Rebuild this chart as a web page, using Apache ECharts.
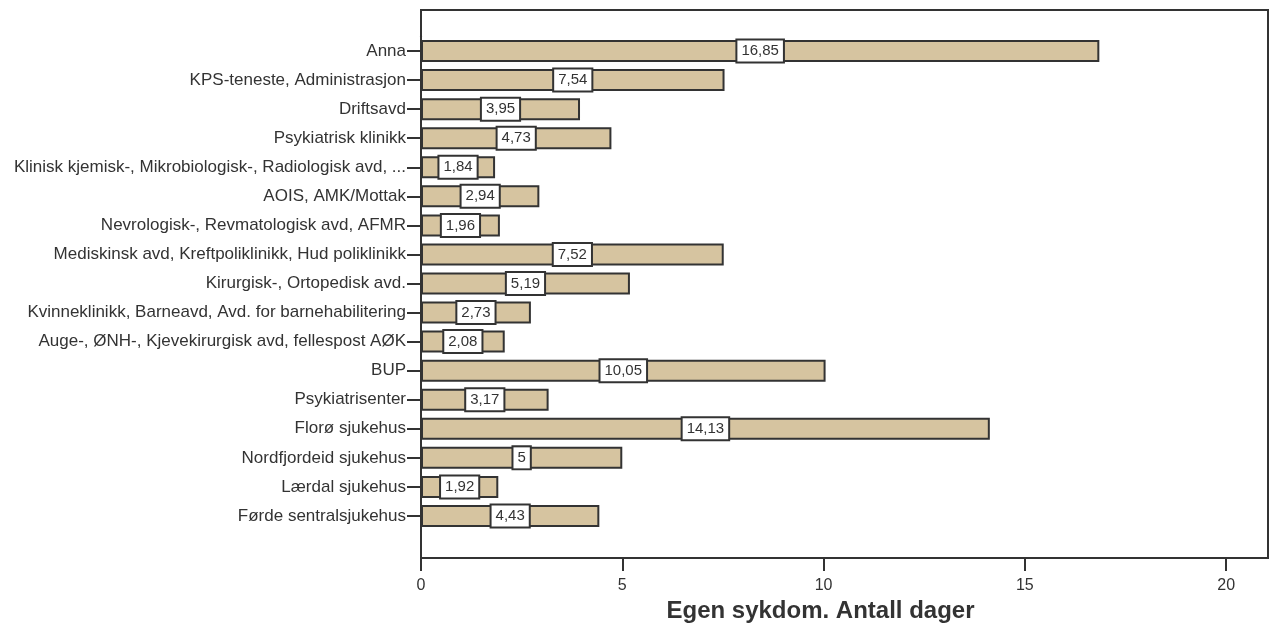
<!DOCTYPE html>
<html>
<head>
<meta charset="utf-8">
<script src="https://cdn.jsdelivr.net/npm/echarts@6/dist/echarts.min.js"></script>
<style>
  html, body { margin: 0; padding: 0; background: #fff; }
  #chart { width: 1270px; height: 625px; }
</style>
</head>
<body>
<div id="chart"></div>
<script>
// Departments, listed top to bottom
const departments = [
  'Anna',
  'KPS-teneste, Administrasjon',
  'Driftsavd',
  'Psykiatrisk klinikk',
  'Klinisk kjemisk-, Mikrobiologisk-, Radiologisk avd, ...',
  'AOIS, AMK/Mottak',
  'Nevrologisk-, Revmatologisk avd, AFMR',
  'Mediskinsk avd, Kreftpoliklinikk, Hud poliklinikk',
  'Kirurgisk-, Ortopedisk avd.',
  'Kvinneklinikk, Barneavd, Avd. for barnehabilitering',
  'Auge-, ØNH-, Kjevekirurgisk avd, fellespost AØK',
  'BUP',
  'Psykiatrisenter',
  'Florø sjukehus',
  'Nordfjordeid sjukehus',
  'Lærdal sjukehus',
  'Førde sentralsjukehus'
];

// Days of own sickness per department
const sickDays = [16.85, 7.54, 3.95, 4.73, 1.84, 2.94, 1.96, 7.52, 5.19, 2.73, 2.08, 10.05, 3.17, 14.13, 5, 1.92, 4.43];

// Tick values on the day axis
const dayTicks = [0, 5, 10, 15, 20];

const axisName = 'Egen sykdom. Antall dager';

const ink = '#333333';
const fontFamily = '"Liberation Sans", Arial, Helvetica, sans-serif';
const xMax = 21.04;

const chart = echarts.init(document.getElementById('chart'), null, { renderer: 'canvas' });

chart.setOption({
  animation: false,
  backgroundColor: '#ffffff',
  textStyle: { fontFamily: fontFamily, color: ink },
  grid: [
    // framed plotting area
    { left: 421, right: 2, top: 10, bottom: 67, outerBoundsMode: 'none', containLabel: false,
      show: true, borderColor: ink, borderWidth: 2, backgroundColor: 'transparent' },
    // inner area holding the category bands
    { left: 421, right: 2, top: 36.5, bottom: 94.5, outerBoundsMode: 'none', containLabel: false }
  ],
  xAxis: [
    {
      gridIndex: 0,
      type: 'value',
      min: 0,
      max: xMax,
      interval: 5,
      splitLine: { show: false },
      axisLine: { show: true, lineStyle: { color: ink, width: 2 } },
      axisTick: { show: true, length: 13, customValues: dayTicks, lineStyle: { color: ink, width: 2 } },
      axisLabel: { customValues: dayTicks, color: ink, fontSize: 16, margin: 20, fontFamily: fontFamily },
      name: axisName,
      nameLocation: 'middle',
      nameGap: 41,
      nameTextStyle: { fontSize: 24, fontWeight: 'bold', color: ink, fontFamily: fontFamily, padding: [0, 48, 0, 0] }
    },
    {
      gridIndex: 1,
      type: 'value',
      min: 0,
      max: xMax,
      show: false
    }
  ],
  yAxis: [
    { gridIndex: 0, type: 'value', show: false },
    {
      gridIndex: 1,
      type: 'category',
      inverse: true,
      data: departments,
      axisLine: { show: true, lineStyle: { color: ink, width: 2 } },
      axisTick: { show: true, length: 14, alignWithLabel: true, lineStyle: { color: ink, width: 2 } },
      axisLabel: { color: ink, fontSize: 17, margin: 15, fontFamily: fontFamily },
      splitLine: { show: false }
    }
  ],
  series: [
    {
      type: 'bar',
      xAxisIndex: 1,
      yAxisIndex: 1,
      data: sickDays,
      barWidth: 22,
      itemStyle: { color: '#d6c4a0', borderColor: ink, borderWidth: 2 },
      label: {
        show: true,
        position: 'inside',
        formatter: p => String(p.value).replace('.', ','),
        color: ink,
        fontSize: 15,
        fontFamily: fontFamily,
        backgroundColor: '#ffffff',
        borderColor: ink,
        borderWidth: 2,
        padding: [3, 4, 2, 4],
        lineHeight: 16
      }
    }
  ]
});
</script>
</body>
</html>
